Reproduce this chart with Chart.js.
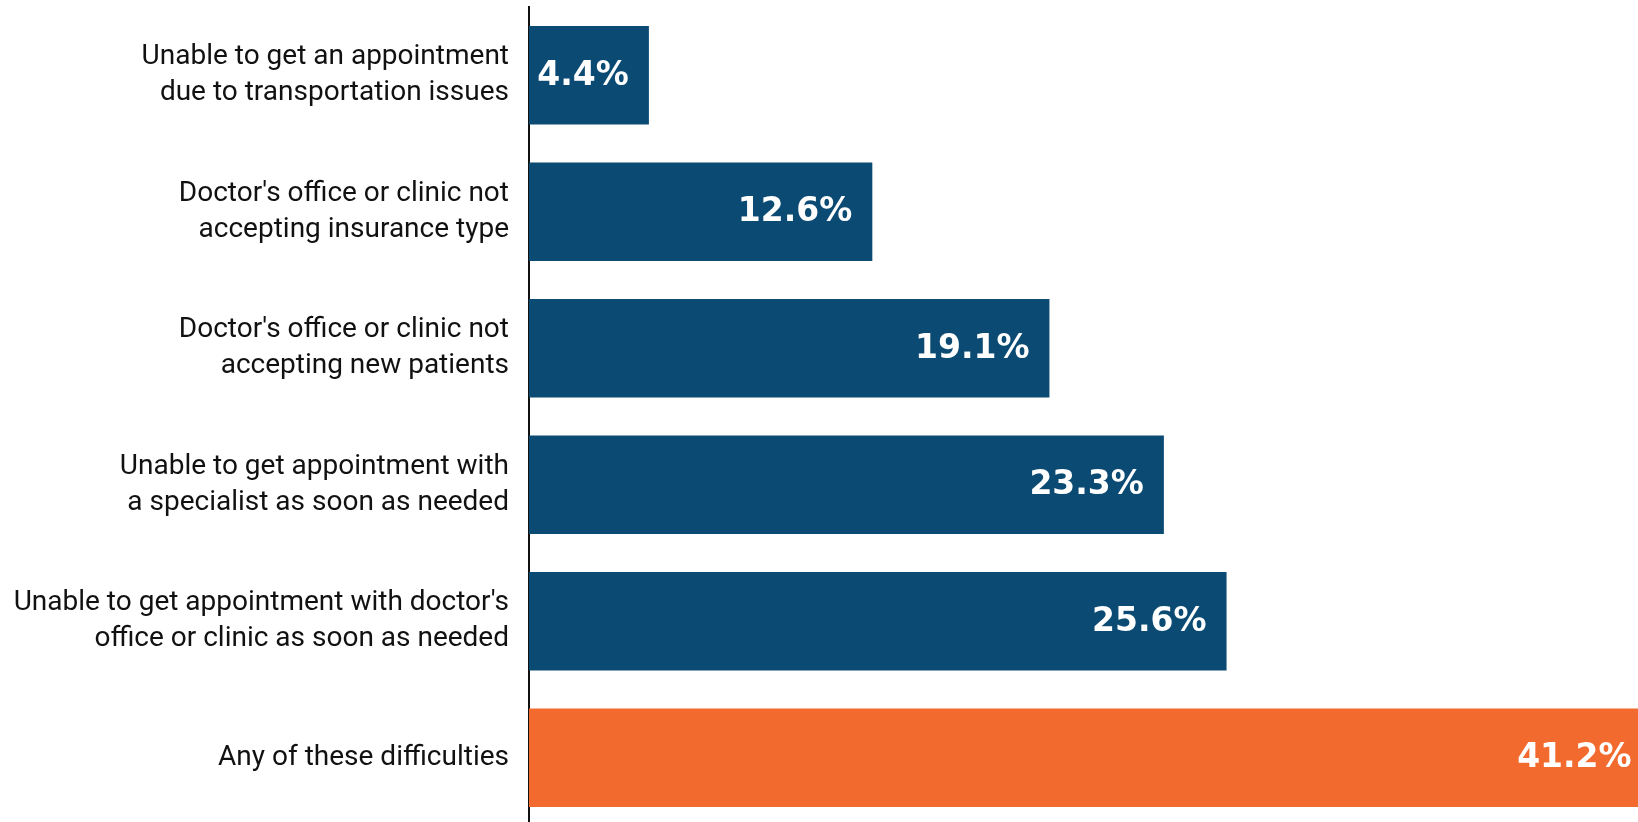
<!DOCTYPE html>
<html>
<head>
<meta charset="utf-8">
<script src="https://cdn.jsdelivr.net/npm/chart.js@4"></script>
<style>
    html, body { margin: 0; padding: 0; background: #fff; overflow: hidden; }
    #wrap { width: 1638px; height: 826px; }
</style>
</head>
<body>
<div id="wrap"><canvas id="chart"></canvas></div>
<script>
// Data
const categories = [
    ['Unable to get an appointment', 'due to transportation issues'],
    ["Doctor's office or clinic not", 'accepting insurance type'],
    ["Doctor's office or clinic not", 'accepting new patients'],
    ['Unable to get appointment with', 'a specialist as soon as needed'],
    ["Unable to get appointment with doctor's", 'office or clinic as soon as needed'],
    'Any of these difficulties'
];
const values = [4.4, 12.6, 19.1, 23.3, 25.6, 41.2];
const barColors = ['#0a4a73', '#0a4a73', '#0a4a73', '#0a4a73', '#0a4a73', '#f26a2d'];

// Draw value labels inside bar ends
const valueLabels = {
    id: 'valueLabels',
    afterDatasetsDraw(chart) {
        const ctx = chart.ctx;
        const meta = chart.getDatasetMeta(0);
        ctx.save();
        ctx.font = 'bold 33px "DejaVu Sans"';
        ctx.fillStyle = '#ffffff';
        ctx.textAlign = 'right';
        ctx.textBaseline = 'middle';
        meta.data.forEach((bar, i) => {
            ctx.fillText(values[i].toFixed(1) + '%', bar.x - 20, bar.y + 1);
        });
        ctx.restore();
    }
};

new Chart(document.getElementById('chart'), {
    type: 'bar',
    data: {
        labels: categories,
        datasets: [{
            data: values,
            backgroundColor: barColors,
            borderWidth: 0,
            barPercentage: 0.72,
            categoryPercentage: 1
        }]
    },
    options: {
        indexAxis: 'y',
        responsive: true,
        maintainAspectRatio: false,
        animation: false,
        layout: { padding: { top: 7, right: 0, bottom: 0, left: 0 } },
        plugins: {
            legend: { display: false },
            tooltip: { enabled: false }
        },
        scales: {
            x: {
                display: false,
                min: 0,
                max: 40.7
            },
            y: {
                grid: { display: false, drawTicks: false },
                border: { display: true, color: '#111', width: 2 },
                ticks: {
                    color: '#111',
                    padding: 20,
                    font: { family: 'Roboto', size: 28, lineHeight: 1.3 }
                },
                afterFit(scale) {
                    scale.width = 529;
                    scale.paddingTop = 0;
                    scale.paddingBottom = 0;
                }
            }
        }
    },
    plugins: [valueLabels]
});
</script>
</body>
</html>
